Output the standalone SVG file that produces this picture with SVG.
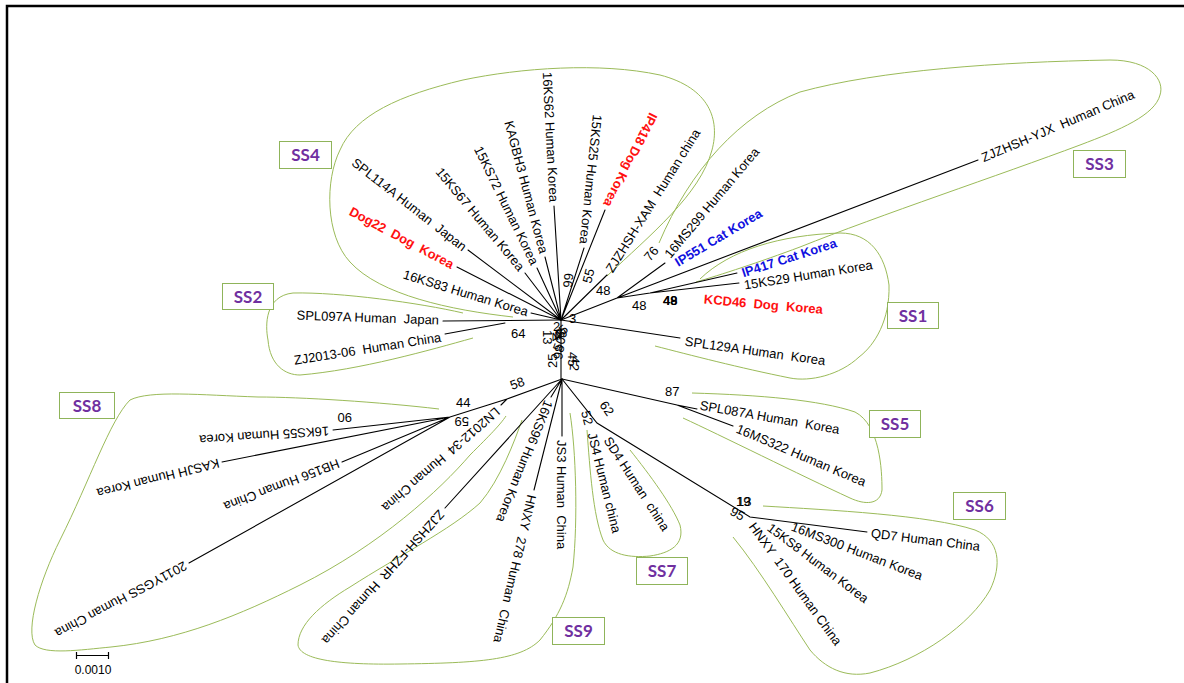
<svg xmlns="http://www.w3.org/2000/svg" width="1184" height="683" viewBox="0 0 1184 683">
<style>
  .b{stroke:#000;stroke-width:1.1;fill:none;stroke-linecap:round}
  .h{stroke:#9BBB59;stroke-width:1;fill:none}
  .t{font-family:"Liberation Sans",Arial,sans-serif;font-size:13px;fill:#000;white-space:pre}
  .r{fill:#FF1010;font-weight:bold}
  .u{fill:#1010E0;font-weight:bold}
  .e{text-anchor:end}
  .n{font-family:"Liberation Sans",Arial,sans-serif;font-size:13px;fill:#000}
  .box rect{fill:#fff;stroke:#8FB45A;stroke-width:1}
  .box text{font-family:Lato,"Open Sans",sans-serif;font-weight:bold;font-size:17px;fill:#7030A0;text-anchor:middle}
</style>

<!-- frame -->
<path d="M7,683 V6 H1184" fill="none" stroke="#000" stroke-width="2.5"/>

<!-- subgroup hulls -->
<g id="hulls">
  <path id="hull-ss4" class="h" d="M513,317 C450,310 380,295 350,262 C325,235 325,180 340,150 C355,115 400,95 463,80 C520,68 600,62 660,75 C710,88 720,120 712,150 C700,195 650,235 607,276"/>
  <path id="hull-ss3" class="h" d="M659,243 C690,170 740,115 800,92 C880,70 1000,62 1110,60 C1150,60 1165,80 1160,95 C1155,115 1120,130 1080,145 C1000,175 880,215 800,247 C760,262 720,275 696,282"/>
  <path id="hull-ss2" class="h" d="M463,313 C420,303 340,292 293,293 C265,296 265,325 268,340 C270,365 285,375 300,375 C360,370 430,350 473,338"/>
  <path id="hull-ss1" class="h" d="M700,279 C730,250 780,235 840,233 C870,233 885,255 889,285 C890,320 875,345 859,357 C840,375 810,382 790,378 C740,368 690,355 655,346"/>
  <path id="hull-ss5" class="h" d="M692,393 C760,395 820,400 855,412 C880,425 882,470 882,490 C880,505 865,505 850,498 C800,475 720,435 683,418"/>
  <path id="hull-ss6" class="h" d="M763,506 C830,510 930,515 975,530 C1000,540 1002,565 990,590 C970,625 920,660 870,673 C845,678 825,668 810,650 C790,620 760,570 733,537"/>
  <path id="hull-ss7" class="h" d="M630,450 C650,475 672,505 680,525 C685,545 670,553 650,556 C630,558 610,555 603,540 C593,515 590,470 587,430"/>
  <path id="hull-ss9" class="h" d="M570,413 C576,450 578,520 573,567 C568,595 560,615 540,640 C520,660 480,663 400,664 C340,665 300,660 298,645 C298,625 320,605 350,587 C400,555 450,530 480,503 C500,480 515,440 522,420"/>
  <path id="hull-ss8" class="h" d="M439,409 C380,402 300,397 258,397 C200,395 150,390 130,400 C110,420 90,480 60,540 C40,580 25,630 35,645 C45,655 80,650 111,647 C180,640 240,615 300,585 C380,545 440,490 470,455 C490,435 500,425 506,416"/>
</g>

<!-- tree branches -->
<g id="branches" class="b">
  <path d="M561,320 V379"/>
  <!-- upper hub -->
  <path d="M561,320 L531,313 M561,320 L457,267 M561,320 L468,250 M561,320 L525,273 M561,320 L537,268 M561,320 L545,257 M561,320 L554,206"/>
  <path d="M561,320 L584,248 M561,320 L605,210 M561,320 L607,275"/>
  <path d="M561,320 L617,298 L665,263 M617,298 L978,160 M617,298 L650,293 L737,273 M650,293 L739,283"/>
  <path d="M561,320 L680,338"/>
  <path d="M561,320 L443,321 M505,323 L445,334"/>
  <!-- lower hub -->
  <path d="M562,379 V436 M562,379 L551,397 M562,379 L534,490 M562,379 L445,508"/>
  <path d="M562,379 L507,399 L450,417 L333,430 M450,417 L222,462 M450,417 L342,462 M450,417 L189,563 M507,399 L501,405"/>
  <path d="M562,379 L677,405 L697,409 M677,405 L733,426"/>
  <path d="M562,379 L597,423 L750,517 L867,532"/>
</g>

<!-- leaf labels -->
<g id="labels">
  <text class="t e" dy="0.35em" transform="translate(528,312) rotate(17)">16KS83 Human Korea</text>
  <text class="t e r" dy="0.35em" transform="translate(453,265) rotate(28)">Dog22  Dog  Korea</text>
  <text class="t e" dy="0.35em" transform="translate(465,248) rotate(38)">SPL114A Human  Japan</text>
  <text class="t e" dy="0.35em" transform="translate(522,269) rotate(50)">15KS67 Human Korea</text>
  <text class="t e" dy="0.35em" transform="translate(535,264) rotate(64)">15KS72 Human Korea</text>
  <text class="t e" dy="0.35em" transform="translate(544,253) rotate(75)">KAGBH3 Human Korea</text>
  <text class="t e" dy="0.35em" transform="translate(554,202) rotate(87)">16KS62 Human Korea</text>
  <text class="t e" dy="0.35em" transform="translate(584,244) rotate(96)">15KS25 Human Korea</text>
  <text class="t e r" dy="0.35em" transform="translate(607,206) rotate(117)">IP418 Dog Korea</text>
  <text class="t" dy="0.35em" transform="translate(609,271) rotate(-58)">ZJZHSH-XAM  Human china</text>
  <text class="t" dy="0.35em" transform="translate(667,256) rotate(-50)">16MS299 Human Korea</text>
  <text class="t u" dy="0.35em" transform="translate(676,263) rotate(-31)">IP551 Cat Korea</text>
  <text class="t" dy="0.35em" transform="translate(982,158) rotate(-23)">ZJZHSH-YJX  Human China</text>
  <text class="t u" dy="0.35em" transform="translate(742,273) rotate(-18)">IP417 Cat Korea</text>
  <text class="t" dy="0.35em" transform="translate(744,285) rotate(-9)">15KS29 Human Korea</text>
  <text class="t r" dy="0.35em" transform="translate(704,299) rotate(5)">KCD46  Dog  Korea</text>
  <text class="t" dy="0.35em" transform="translate(685,341) rotate(8)">SPL129A Human  Korea</text>
  <text class="t e" dy="0.35em" transform="translate(439,320) rotate(2)">SPL097A Human  Japan</text>
  <text class="t e" dy="0.35em" transform="translate(441,337) rotate(-9)">ZJ2013-06  Human China</text>

  <text class="t" dy="0.35em" transform="translate(562,440) rotate(90)">JS3 Human  China</text>
  <text class="t" dy="0.35em" transform="translate(549,401) rotate(112)">16KS96 Human Korea</text>
  <text class="t" dy="0.35em" transform="translate(532,495) rotate(103)">HNXY  278 Human  China</text>
  <text class="t" dy="0.35em" transform="translate(442,512) rotate(132)">ZJZHSH-FZHR  Human China</text>
  <text class="t" dy="0.35em" transform="translate(498,410) rotate(139)">LN2012-34  Human China</text>
  <text class="t" dy="0.35em" transform="translate(329,431) rotate(176)">16KS55 Human Korea</text>
  <text class="t" dy="0.35em" transform="translate(219,463) rotate(166)">KASJH Human Korea</text>
  <text class="t" dy="0.35em" transform="translate(339,463) rotate(159)">HB156 Human China</text>
  <text class="t" dy="0.35em" transform="translate(186,565) rotate(152)">2011YGSS Human China</text>

  <text class="t" dy="0.35em" transform="translate(700,405) rotate(10)">SPL087A Human  Korea</text>
  <text class="t" dy="0.35em" transform="translate(737,428) rotate(23)">16MS322 Human Korea</text>
  <text class="t" dy="0.35em" transform="translate(871,533) rotate(7)">QD7 Human China</text>
  <text class="t" dy="0.35em" transform="translate(792,526) rotate(21)">16MS300 Human Korea</text>
  <text class="t" dy="0.35em" transform="translate(769,526) rotate(37)">15KS8 Human Korea</text>
  <text class="t" dy="0.35em" transform="translate(752,524) rotate(54)">HNXY  170 Human China</text>
  <text class="t" dy="0.35em" transform="translate(592,433) rotate(76)">JS4 Human china</text>
  <text class="t" dy="0.35em" transform="translate(607,438) rotate(57)">SD4 Human  china</text>
</g>

<!-- bootstrap values -->
<g id="support" class="n">
  <text x="569" y="323">3</text>
  <text x="511" y="338">64</text>
  <text x="596" y="295">48</text>
  <text x="632" y="310">48</text>
  <text x="663" y="305" font-weight="bold">48</text>
  <text x="663" y="305">49</text>
  <text transform="translate(650,262) rotate(-50)">76</text>
  <text transform="translate(572,288) rotate(-85)">99</text>
  <text transform="translate(591,284) rotate(-75)">55</text>
  <text x="665" y="396">87</text>
  <text transform="translate(599,405) rotate(55)">62</text>
  <text transform="translate(581,412) rotate(75)">52</text>
  <text x="736" y="506">19</text>
  <text x="737" y="506">13</text>
  <text transform="translate(729,514) rotate(30)">95</text>
  <text transform="translate(512,390) rotate(-20)">58</text>
  <text x="456" y="407">44</text>
  <text transform="translate(469,417) rotate(180)">59</text>
  <text transform="translate(352,413) rotate(180)">90</text>
  <text transform="translate(557,368) rotate(-90)">25</text>
  <text transform="translate(543,330) rotate(90)">13</text>
  <text x="553" y="331">2</text>
  <text transform="translate(554,343) rotate(-35)">48</text>
  <text transform="translate(556,342) rotate(-30)">49</text>
  <text transform="translate(558,340) rotate(-40)">45</text>
  <text transform="translate(562,360) rotate(-80)">98</text>
  <text transform="translate(561,352) rotate(-70)">50</text>
  <text transform="translate(568,352) rotate(90)">45</text>
  <text transform="translate(571,356) rotate(95)">42</text>
</g>

<!-- subgroup tags -->
<g id="ss4" class="box"><rect x="279.5" y="141.5" width="52" height="27"/><text x="305.5" y="161">SS4</text></g>
<g id="ss3" class="box"><rect x="1073.5" y="150.5" width="52" height="27"/><text x="1099.5" y="170">SS3</text></g>
<g id="ss2" class="box"><rect x="222.5" y="283.5" width="51" height="26"/><text x="248" y="302.5">SS2</text></g>
<g id="ss1" class="box"><rect x="887.5" y="302.5" width="51" height="26"/><text x="913" y="321.5">SS1</text></g>
<g id="ss8" class="box"><rect x="59.5" y="392.5" width="55" height="26"/><text x="87" y="411.5">SS8</text></g>
<g id="ss5" class="box"><rect x="869.5" y="410.5" width="51" height="27"/><text x="895" y="430">SS5</text></g>
<g id="ss6" class="box"><rect x="953.5" y="492.5" width="52" height="27"/><text x="979.5" y="512">SS6</text></g>
<g id="ss7" class="box"><rect x="636.5" y="557.5" width="51" height="27"/><text x="662" y="577">SS7</text></g>
<g id="ss9" class="box"><rect x="552.5" y="617.5" width="52" height="27"/><text x="578.5" y="637">SS9</text></g>

<!-- scale bar -->
<g id="scale">
  <path d="M76.5,652 V659 M108.5,652 V659 M76.5,655.5 H108.5" stroke="#000" stroke-width="1.2" fill="none"/>
  <text x="93" y="674" text-anchor="middle" font-family="Liberation Sans,Arial,sans-serif" font-size="12">0.0010</text>
</g>
</svg>
